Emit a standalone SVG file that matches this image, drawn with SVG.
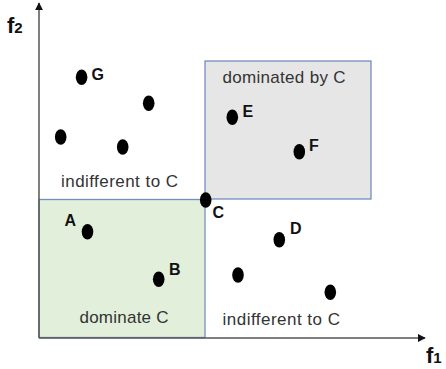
<svg xmlns="http://www.w3.org/2000/svg" width="446" height="369" viewBox="0 0 446 369">
<style>
.region{stroke:#7390c0;stroke-width:1.3}
.axis{stroke:#555;stroke-width:1.5;fill:none}
.dot{fill:#000}
.lbl{font-family:"Liberation Sans",Arial,sans-serif;font-weight:bold;font-size:16px;fill:#111}
.txt{font-family:"Liberation Sans",Arial,sans-serif;font-size:17px;fill:#333}
.ax{font-family:"Liberation Sans",Arial,sans-serif;font-weight:bold;font-size:22px;fill:#111}
</style>
<defs>
<marker id="ah" viewBox="0 0 10 10" refX="9" refY="5" markerWidth="8" markerHeight="8" markerUnits="userSpaceOnUse" orient="auto">
<path d="M0,0 L10,5 L0,10 Z" fill="#111"/>
</marker>
</defs>
<g id="region-dominated">
<rect class="region" x="205" y="61" width="166" height="138" fill="#e6e6e6"/>
<text class="txt" x="222.5" y="83" textLength="123">dominated by C</text>
</g>
<g id="region-dominate">
<rect class="region" x="39" y="199.5" width="166" height="138" fill="#e2efda"/>
<text class="txt" x="79.5" y="322.5" textLength="89">dominate C</text>
</g>
<g id="connectors">
<line class="axis" x1="39" y1="338" x2="39" y2="3" marker-end="url(#ah)"/>
<line class="axis" x1="39" y1="338" x2="425" y2="338" marker-end="url(#ah)"/>
</g>
<g id="axis-labels">
<text class="ax" x="7" y="33">f<tspan font-size="15">2</tspan></text>
<text class="ax" x="426" y="363">f<tspan font-size="15">1</tspan></text>
</g>
<g id="region-indifferent-top">
<text class="txt" x="61" y="186.5" textLength="117">indifferent to C</text>
</g>
<g id="region-indifferent-bottom">
<text class="txt" x="222.5" y="325" textLength="117.5">indifferent to C</text>
</g>
<g id="point-G"><ellipse class="dot" cx="81.6" cy="77.3" rx="5.8" ry="7.8"/><text class="lbl" x="91.5" y="79.5">G</text></g>
<g id="point-1"><ellipse class="dot" cx="148.7" cy="103.3" rx="5.8" ry="7.8"/></g>
<g id="point-2"><ellipse class="dot" cx="60.7" cy="137" rx="5.8" ry="7.8"/></g>
<g id="point-3"><ellipse class="dot" cx="122.7" cy="147" rx="5.8" ry="7.8"/></g>
<g id="point-E"><ellipse class="dot" cx="232.3" cy="117.3" rx="5.8" ry="7.8"/><text class="lbl" x="242.5" y="117">E</text></g>
<g id="point-F"><ellipse class="dot" cx="299.3" cy="151.7" rx="5.8" ry="7.8"/><text class="lbl" x="309" y="150.5">F</text></g>
<g id="point-C"><ellipse class="dot" cx="205.7" cy="200" rx="5.8" ry="7.8"/><text class="lbl" x="212.5" y="218">C</text></g>
<g id="point-A"><ellipse class="dot" cx="87.5" cy="231.8" rx="5.8" ry="7.8"/><text class="lbl" x="64.5" y="225.7">A</text></g>
<g id="point-B"><ellipse class="dot" cx="158.7" cy="279.3" rx="5.8" ry="7.8"/><text class="lbl" x="169" y="274.5">B</text></g>
<g id="point-D"><ellipse class="dot" cx="279.3" cy="239.7" rx="5.8" ry="7.8"/><text class="lbl" x="290" y="234">D</text></g>
<g id="point-4"><ellipse class="dot" cx="238" cy="275" rx="5.8" ry="7.8"/></g>
<g id="point-5"><ellipse class="dot" cx="330.3" cy="292.3" rx="5.8" ry="7.8"/></g>
</svg>
